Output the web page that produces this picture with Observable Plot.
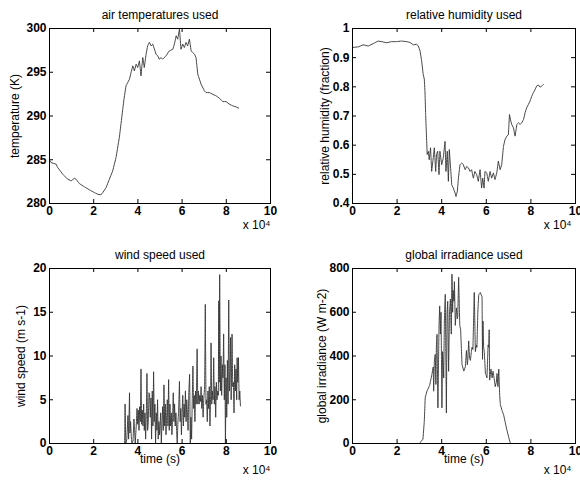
<!DOCTYPE html>
<html>
<head>
<meta charset="utf-8">
<script src="https://cdn.jsdelivr.net/npm/d3@7"></script>
<script src="https://cdn.jsdelivr.net/npm/@observablehq/plot@0.6"></script>
<style>
  html, body { margin: 0; padding: 0; background: #fff; overflow: hidden; }
  #fig { position: relative; width: 580px; height: 480px; background: #fff; }
</style>
</head>
<body>
<div id="fig"></div>
<script>
// time axis is in units of 10^4 s
const xTicks = [0, 2, 4, 6, 8, 10];

// air temperature (K)
const tempTime = [0,0.07,0.30,0.37,0.60,0.82,0.98,1.13,1.20,1.35,1.58,1.81,2.03,2.18,2.33,2.41,2.56,2.71,2.86,3.01,3.16,3.27,3.36,3.46,3.54,3.62,3.69,3.77,3.84,3.92,3.99,4.07,4.14,4.22,4.29,4.37,4.44,4.52,4.60,4.67,4.75,4.82,4.90,4.97,5.05,5.12,5.27,5.42,5.58,5.65,5.73,5.80,5.88,5.95,6.03,6.10,6.18,6.25,6.33,6.41,6.56,6.63,6.71,6.86,7.01,7.08,7.23,7.38,7.54,7.69,7.84,7.99,8.14,8.29,8.44,8.56];
const tempValue = [284.95,284.68,284.49,284.11,283.35,282.78,282.59,282.89,282.78,282.28,281.9,281.56,281.25,281.06,280.99,281.25,281.82,282.78,283.73,285.25,287.54,289.83,291.73,293.44,293.83,294.21,294.97,295.73,295.16,295.92,295.54,296.3,294.59,296.68,295.54,297.06,298.01,298.4,298.01,298.21,297.63,297.06,296.87,296.49,296.68,296.49,296.87,297.44,297.63,298.21,299.16,298.78,299.92,297.63,298.21,297.83,298.4,298.01,298.78,297.44,297.06,296.68,294.78,293.63,292.87,292.68,292.68,292.49,292.3,292.03,291.65,291.65,291.35,291.16,291.04,290.89];
const tempTicks = [280, 285, 290, 295, 300];

// relative humidity (fraction)
const rhTime = [0,0.26,0.48,0.70,0.93,1.15,1.30,1.53,1.75,1.98,2.20,2.43,2.58,2.73,2.88,2.95,3.03,3.10,3.17,3.22,3.25,3.28,3.32,3.35,3.40,3.44,3.50,3.55,3.62,3.67,3.73,3.77,3.82,3.88,3.92,4.00,4.07,4.15,4.19,4.25,4.30,4.34,4.40,4.45,4.52,4.60,4.64,4.70,4.75,4.82,4.90,4.97,5.05,5.12,5.20,5.27,5.34,5.42,5.49,5.57,5.64,5.72,5.79,5.84,5.90,5.94,6.02,6.09,6.17,6.24,6.32,6.39,6.47,6.54,6.62,6.69,6.77,6.84,6.92,6.99,7.04,7.10,7.14,7.22,7.29,7.37,7.44,7.52,7.59,7.67,7.74,7.81,7.89,7.96,8.04,8.11,8.19,8.26,8.34,8.41,8.49,8.56];
const rhValue = [0.935,0.937,0.944,0.940,0.948,0.957,0.955,0.951,0.955,0.955,0.957,0.955,0.952,0.944,0.946,0.940,0.923,0.889,0.843,0.826,0.785,0.705,0.625,0.568,0.579,0.550,0.591,0.510,0.556,0.591,0.510,0.568,0.579,0.499,0.579,0.533,0.556,0.613,0.510,0.579,0.476,0.585,0.522,0.464,0.453,0.436,0.424,0.441,0.487,0.533,0.539,0.533,0.516,0.527,0.522,0.510,0.516,0.487,0.510,0.499,0.476,0.516,0.453,0.487,0.453,0.510,0.505,0.476,0.510,0.487,0.505,0.482,0.505,0.545,0.516,0.533,0.596,0.619,0.631,0.636,0.705,0.682,0.671,0.659,0.631,0.671,0.677,0.671,0.677,0.688,0.711,0.728,0.740,0.751,0.768,0.780,0.791,0.803,0.806,0.799,0.803,0.808];
const rhTicks = [0.4, 0.5, 0.6, 0.7, 0.8, 0.9, 1];

// wind speed (m s-1)
const windTime = [0,3.30,3.40,3.42,3.45,3.50,3.55,3.58,3.62,3.64,3.67,3.70,3.73,3.78,3.82,3.85,3.88,3.92,3.96,3.99,4.02,4.05,4.08,4.11,4.14,4.17,4.20,4.23,4.26,4.29,4.32,4.35,4.38,4.41,4.44,4.47,4.50,4.53,4.56,4.59,4.62,4.65,4.68,4.71,4.74,4.77,4.80,4.83,4.86,4.89,4.92,4.95,4.98,5.03,5.06,5.09,5.12,5.15,5.18,5.21,5.24,5.27,5.30,5.33,5.36,5.39,5.42,5.45,5.48,5.51,5.54,5.57,5.60,5.63,5.66,5.69,5.72,5.75,5.78,5.81,5.84,5.88,5.91,5.94,5.97,6.00,6.03,6.06,6.09,6.12,6.15,6.18,6.21,6.24,6.27,6.30,6.34,6.37,6.40,6.43,6.46,6.49,6.52,6.55,6.58,6.61,6.64,6.68,6.71,6.74,6.77,6.80,6.83,6.86,6.89,6.92,6.95,6.98,7.02,7.05,7.08,7.11,7.14,7.17,7.20,7.23,7.26,7.29,7.31,7.34,7.37,7.40,7.43,7.46,7.49,7.52,7.55,7.58,7.61,7.64,7.66,7.68,7.70,7.73,7.76,7.79,7.82,7.85,7.88,7.91,7.94,7.96,7.99,8.02,8.05,8.08,8.11,8.14,8.17,8.19,8.22,8.26,8.29,8.32,8.35,8.38,8.41,8.44,8.47,8.49,8.52,8.55,8.58,8.61,8.64];
const windValue = [0,0,0,4.5,0,0.5,3.2,0.5,5.8,1.2,2.5,0.8,0,0.3,2.8,1.5,0,1.8,4.0,2.2,3.8,1.5,4.2,2.5,8.5,2.2,3.8,2.0,4.5,1.5,3.5,0.5,3.2,8.0,1.5,2.5,5.8,5.6,3.0,5.2,0.5,6.0,2.0,8.2,2.5,4.5,0,3.5,1.5,5.0,0.5,2.5,1.0,3.5,0,2.5,4.2,1.5,6.7,2.0,4.5,1.0,3.0,5.0,2.0,7.3,1.5,4.5,2.0,3.5,1.0,3.0,5.8,2.5,4.5,2.0,3.5,1.5,0,2.5,3.5,7.1,2.5,4.0,1.0,3.5,5.5,2.0,4.5,3.0,6.0,2.5,5.0,3.5,1.5,5.5,7.9,0,3.0,0.5,5.0,8.85,4.0,5.5,2.5,6.0,4.5,10.8,4.5,6.0,4.5,5.5,4.8,6.5,4.0,5.5,3.0,5.0,6.5,15.9,4.5,5.0,2.5,6.0,4.0,6.5,2.0,5.5,11.5,4.5,6.0,5.0,9.8,4.5,6.5,3.0,7.0,5.0,6.0,5.5,16.3,7.0,19.3,6.0,10.0,5.5,9.0,7.5,12.5,5.0,9.0,0,7.5,3.0,9.5,4.5,16.4,6.0,8.0,12.1,5.0,12.5,6.5,7.0,3.5,9.0,6.0,8.5,5.0,9.8,7.0,9.8,5.0,6.0,4.3];
const windTicks = [0, 5, 10, 15, 20];

// global irradiance (W m-2)
const irrTime = [0,3.00,3.08,3.16,3.22,3.26,3.34,3.46,3.56,3.62,3.64,3.67,3.71,3.74,3.76,3.79,3.83,3.88,3.91,3.94,3.97,4.01,4.04,4.06,4.09,4.12,4.16,4.21,4.24,4.27,4.31,4.35,4.39,4.43,4.46,4.49,4.51,4.55,4.57,4.61,4.66,4.70,4.72,4.76,4.81,4.85,4.91,4.99,5.06,5.11,5.15,5.17,5.21,5.25,5.29,5.33,5.36,5.40,5.46,5.51,5.55,5.58,5.62,5.66,5.70,5.73,5.77,5.81,5.83,5.85,5.88,5.91,5.96,6.00,6.03,6.08,6.11,6.13,6.15,6.21,6.26,6.30,6.35,6.40,6.45,6.48,6.52,6.56,6.60,6.63,6.71,6.78,6.90,7.01,7.08,8.64];
const irrValue = [0,0,10,20,102,209,240,266,316,350,240,377,407,270,438,499,163,540,629,500,600,163,420,380,300,560,682,140,600,650,330,600,660,500,774,600,700,650,740,540,620,570,580,760,540,520,362,331,350,425,360,380,469,390,380,420,440,430,690,420,450,440,600,680,685,690,680,670,385,560,440,420,320,310,300,450,440,520,290,340,300,330,300,260,280,320,260,340,220,178,150,130,72,26,0,0];
const irrTicks = [0, 200, 400, 600, 800];

const zip = (ts, vs) => ts.map((t, i) => ({t, v: vs[i]}));

const FONT = "'Liberation Sans', Arial, Helvetica, sans-serif";
const LINE = "#333";

function panel({data, yDomain, yTicks, title, ylabel, ylabelX, ml, mr, xlabel, expDx}) {
  const W = 290, H = 240, mt = 28, mb = 37;
  const ph = H - mt - mb, pw = W - ml - mr;
  const marks = [
    Plot.line(data, {x: "t", y: "v", stroke: LINE, strokeWidth: 0.9, strokeDasharray: "2,0.8"}),
    Plot.frame({stroke: "#000", strokeWidth: 1}),
    Plot.tickX(xTicks, {x: d => d, stroke: "#000", insetBottom: ph - 4}),
    Plot.tickX(xTicks, {x: d => d, stroke: "#000", insetTop: ph - 4}),
    Plot.tickY(yTicks, {y: d => d, stroke: "#000", insetRight: pw - 4}),
    Plot.tickY(yTicks, {y: d => d, stroke: "#000", insetLeft: pw - 4}),
    Plot.axisX({ticks: xTicks, tickSize: 0, tickPadding: 3, fontWeight: "bold", fontSize: 12, fill: "#000", label: null}),
    Plot.axisY({ticks: yTicks, tickSize: 0, tickPadding: 3, fontWeight: "bold", fontSize: 12, fill: "#000", label: null, tickFormat: d => String(d)}),
    Plot.text([title], {frameAnchor: "top", dy: -13, fontSize: 12, fill: "#000", lineAnchor: "middle"}),
    Plot.text([ylabel], {frameAnchor: "left", textAnchor: "middle", dx: ylabelX - ml, rotate: -90, fontSize: 12, fill: "#000", lineAnchor: "middle"}),
    Plot.text(["x 10\u2074"], {frameAnchor: "bottom-right", textAnchor: "end", dx: expDx, dy: xlabel ? 27 : 22, fontSize: 12, fill: "#000", lineAnchor: "middle"})
  ];
  if (xlabel) marks.push(Plot.text([xlabel], {frameAnchor: "bottom", dy: 16, fontSize: 12, fill: "#000", lineAnchor: "middle"}));
  return Plot.plot({
    width: W, height: H,
    marginLeft: ml, marginRight: mr, marginTop: mt, marginBottom: mb,
    style: {fontFamily: FONT, fontSize: "12px", background: "transparent", overflow: "visible"},
    x: {domain: [0, 10], label: null},
    y: {domain: yDomain, label: null},
    marks
  });
}

const fig = document.getElementById("fig");
const panels = [
  {left: 0, top: 0, opts: {data: zip(tempTime, tempValue), yDomain: [280, 300], yTicks: tempTicks, title: "air temperatures used", ylabel: "temperature (K)", ylabelX: 15, ml: 49, mr: 20, expDx: 0}},
  {left: 290, top: 0, opts: {data: zip(rhTime, rhValue), yDomain: [0.4, 1], yTicks: rhTicks, title: "relative humidity used", ylabel: "relative humidity (fraction)", ylabelX: 35, ml: 62, mr: 5, expDx: -4}},
  {left: 0, top: 240, opts: {data: zip(windTime, windValue), yDomain: [0, 20], yTicks: windTicks, title: "wind speed used", ylabel: "wind speed (m s-1)", ylabelX: 21, ml: 49, mr: 20, xlabel: "time (s)", expDx: 0}},
  {left: 290, top: 240, opts: {data: zip(irrTime, irrValue), yDomain: [0, 800], yTicks: irrTicks, title: "global irradiance used", ylabel: "global irradiance (W m-2)", ylabelX: 32, ml: 62, mr: 5, xlabel: "time (s)", expDx: -4}}
];
for (const p of panels) {
  const el = panel(p.opts);
  el.style.position = "absolute";
  el.style.left = p.left + "px";
  el.style.top = p.top + "px";
  fig.appendChild(el);
}
</script>
</body>
</html>
